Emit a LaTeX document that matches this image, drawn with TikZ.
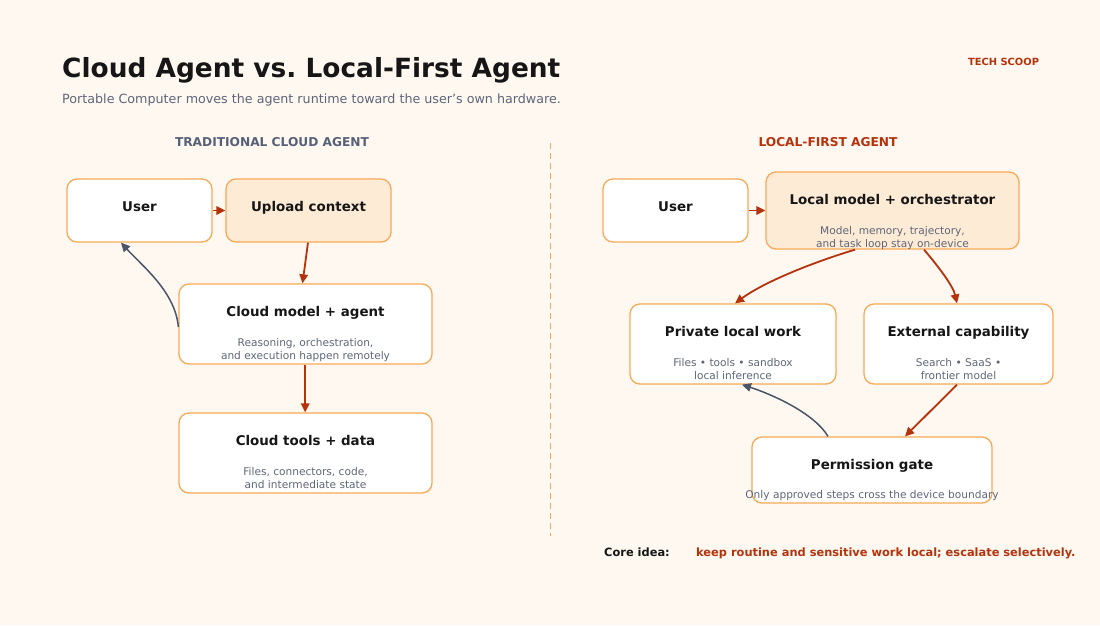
\documentclass[tikz,border=0pt]{standalone}
\usepackage{fontspec}
\setmainfont{DejaVu Sans}
\usetikzlibrary{positioning, arrows.meta}
\definecolor{paper}{HTML}{FEF8F1}
\definecolor{edge}{HTML}{F7A955}
\definecolor{warm}{HTML}{FDEBD6}
\definecolor{flame}{HTML}{B5330C}
\definecolor{slate}{HTML}{4A5568}
\definecolor{muted}{HTML}{5E6678}
\definecolor{ink}{HTML}{161616}
\definecolor{headgray}{HTML}{566178}
\frenchspacing

\tikzset{
  card/.style={draw=edge, fill=white, line width=1.3pt, rounded corners=10pt, inner sep=0pt},
  hotcard/.style={card, fill=warm},
  ttl/.style={anchor=base, inner sep=0pt, text=ink, font=\bfseries\fontsize{13.4}{15}\selectfont},
  sub/.style={anchor=base, inner sep=0pt, align=center, text=muted, font=\fontsize{10.6}{13}\selectfont},
  flow/.style={draw=flame, line width=1.8pt, -{Triangle[length=9pt,width=8.5pt]}},
  back/.style={draw=slate, line width=1.5pt, -{Triangle[length=9pt,width=8.5pt]}},
}

\begin{document}
\begin{tikzpicture}[x=1pt, y=-1pt]
        \fill[paper] (0,0) rectangle (1100,625);
        \useasboundingbox (0,0) rectangle (1100,625);
        % heading
        \node[anchor=base west, inner sep=0pt, text=ink, font=\bfseries\fontsize{26.4}{30}\selectfont] (title) at (62,77) {Cloud Agent vs. Local-First Agent};
        \node[anchor=base west, inner sep=0pt, text=muted, font=\fontsize{12.7}{15}\selectfont] (subtitle) at (62,103) {Portable Computer moves the agent runtime toward the user’s own hardware.};
        \node[anchor=base, inner sep=0pt, text=flame, font=\bfseries\fontsize{9.9}{11}\selectfont] (brand) at (1003.5,65.5) {TECH SCOOP};
        \node[anchor=base, inner sep=0pt, text=headgray, font=\bfseries\fontsize{12.2}{14}\selectfont] (headL) at (272,146.5) {TRADITIONAL CLOUD AGENT};
        \node[anchor=base, inner sep=0pt, text=flame, font=\bfseries\fontsize{12.2}{14}\selectfont] (headR) at (828,146.5) {LOCAL-FIRST AGENT};

        % divider
        \coordinate (divtop) at (550,143);
        \coordinate (divbot) at (550,536);
        \draw[edge, line width=1pt, dash pattern=on 6pt off 4pt] (divtop) -- (divbot);

        % cloud side
        \node[card, minimum width=145, minimum height=63] (userL) at (139.5,210.5) {};
        \node[ttl] (userLt) at (139.5,211) {User};
        \node[hotcard, minimum width=165, minimum height=63] (upload) at (308.5,210.5) {};
        \node[ttl] (uploadt) at (308.5,211) {Upload context};
        \node[card, minimum width=253, minimum height=80] (cmodel) at (305.5,324) {};
        \node[ttl] (cmodelt) at (305.5,316) {Cloud model + agent};
        \node[sub] (cmodels) at (305.5,359) {Reasoning, orchestration,\\and execution happen remotely};
        \node[card, minimum width=253, minimum height=80] (ctools) at (305.5,453) {};
        \node[ttl] (ctoolst) at (305.5,445) {Cloud tools + data};
        \node[sub] (ctoolss) at (305.5,488) {Files, connectors, code,\\and intermediate state};

        % local side
        \node[card, minimum width=145, minimum height=63] (userR) at (675.5,210.5) {};
        \node[ttl] (userRt) at (675.5,211) {User};
        \node[hotcard, minimum width=253, minimum height=77] (lmodel) at (892.5,210.5) {};
        \node[ttl] (lmodelt) at (892.5,204) {Local model + orchestrator};
        \node[sub] (lmodels) at (892.5,247) {Model, memory, trajectory,\\and task loop stay on-device};
        \node[card, minimum width=206, minimum height=80] (private) at (733,344) {};
        \node[ttl] (privatet) at (733,336) {Private local work};
        \node[sub] (privates) at (733,379) {Files • tools • sandbox\\local inference};
        \node[card, minimum width=189, minimum height=80] (external) at (958.5,344) {};
        \node[ttl] (externalt) at (958.5,336) {External capability};
        \node[sub] (externals) at (958.5,379) {Search • SaaS •\\frontier model};
        \node[card, minimum width=240, minimum height=66] (gate) at (872,470) {};
        \node[ttl] (gatet) at (872,469) {Permission gate};
        \node[sub] (gates) at (872,498) {Only approved steps cross the device boundary};

        % core idea
        \node[anchor=base west, inner sep=0pt, text=ink, font=\bfseries\fontsize{11.4}{13}\selectfont] (corekey) at (604,556) {Core idea:};
        \node[anchor=base west, inner sep=0pt, text=flame, font=\bfseries\fontsize{11.4}{13}\selectfont] (coreval) at (696,556) {keep routine and sensitive work local; escalate selectively.};

        % connectors
        \draw[flow] (userL) -- (upload);
        \draw[flow] ([xshift=-0.5pt]upload.south) -- ([xshift=-3pt]cmodel.north);
        \draw[flow] ([xshift=-0.3pt]cmodel.south) -- ([xshift=-0.3pt]ctools.north);
        \draw[back] ([yshift=-3pt]cmodel.west) .. controls +(-3,-35) and +(22,24) .. ([xshift=-18.5pt]userL.south);
        \draw[flow] (userR) -- (lmodel);
        \draw[flow] ([xshift=-37.5pt]lmodel.south) .. controls +(-40,12) and +(30,-22) .. ([xshift=2pt]private.north);
        \draw[flow] ([xshift=31.5pt]lmodel.south) .. controls +(12,14) and +(-4,-18) .. ([xshift=-1.5pt]external.north);
        \draw[flow] ([xshift=-1.5pt]external.south) -- ([xshift=33pt]gate.north);
        \draw[back] ([xshift=-44pt]gate.north) .. controls +(-15,-25) and +(25,8) .. ([xshift=9pt]private.south);
    \end{tikzpicture}
\end{document}
